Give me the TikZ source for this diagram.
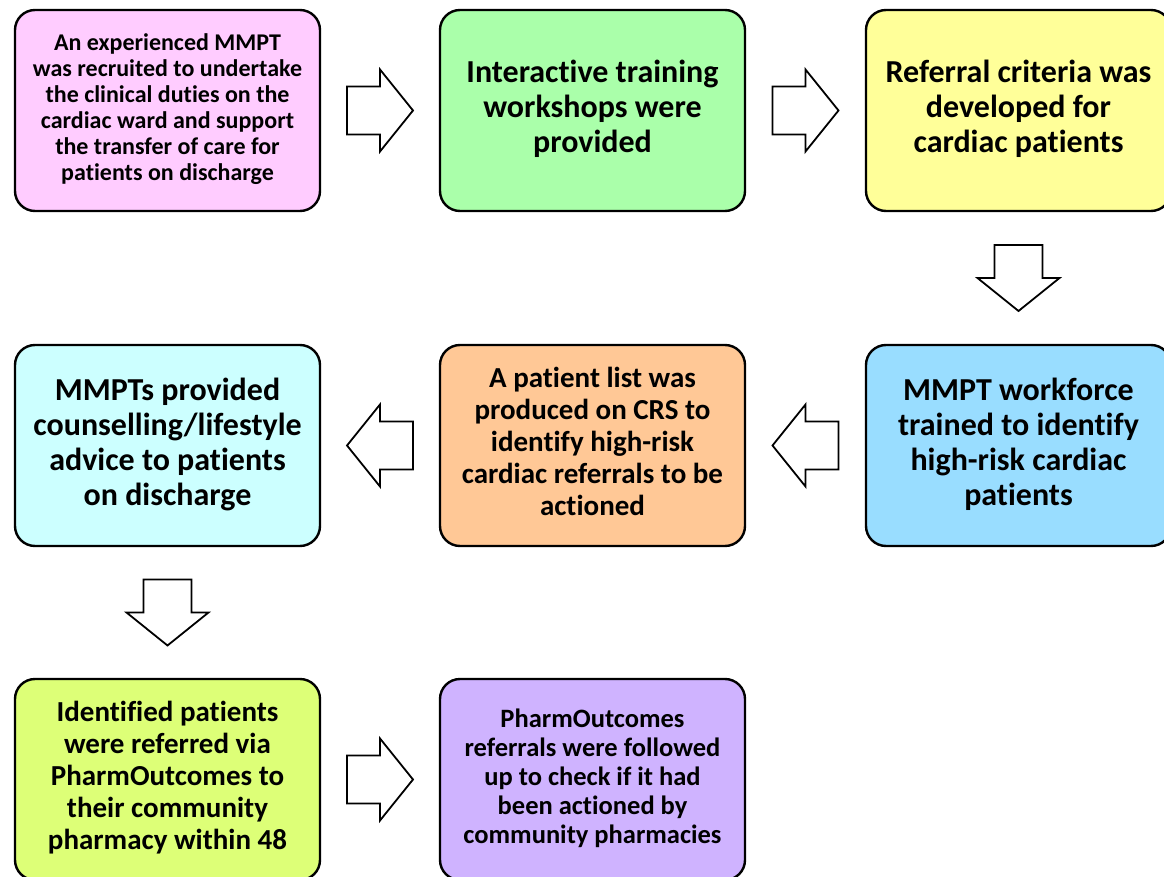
\documentclass[tikz,border=0pt]{standalone}
\usepackage{fontspec}
\setmainfont[Ligatures=NoCommon]{Carlito}
\usetikzlibrary{calc}
% centred block of lines, lifted slightly inside its box
\newcommand\steptext[1]{\raisebox{4.5pt}{\begin{tabular}{@{}c@{}}#1\end{tabular}}}
\begin{document}
\begin{tikzpicture}[x=1pt,y=-1pt,
  stepbox/.style={draw=black, line width=2.4pt, rounded corners=20pt,
    minimum width=305pt, minimum height=201pt, inner sep=0pt,
    align=center, font=\bfseries, text=black},
  small/.style={font=\fontsize{24}{26}\selectfont\bfseries},
  mid/.style={font=\fontsize{26.5}{29}\selectfont\bfseries},
  large/.style={font=\fontsize{29}{32}\selectfont\bfseries},
  huge/.style={font=\fontsize{32}{35}\selectfont\bfseries},
  blockarrow/.pic={
    \draw[line width=1.8pt, fill=white, line join=miter]
      (-33,-24) -- (0,-24) -- (0,-41) -- (33,0) -- (0,41) -- (0,24) -- (-33,24) -- cycle;
  }]
\definecolor{cPink}{HTML}{FFCCFF}
\definecolor{cGreen}{HTML}{AAFFAA}
\definecolor{cYellow}{HTML}{FFFF99}
\definecolor{cBlue}{HTML}{99DDFF}
\definecolor{cOrange}{HTML}{FFC896}
\definecolor{cCyan}{HTML}{CCFFFF}
\definecolor{cLime}{HTML}{DDFF77}
\definecolor{cPurple}{HTML}{CFB3FF}

\useasboundingbox (0,0) rectangle (1164,877);
\clip (0,0) rectangle (1164,877);

% row 1
\node[stepbox, fill=cPink, small] (b1) at (167.5,110.5)
  {\steptext{An experienced MMPT\\was recruited to undertake\\the clinical duties on the\\cardiac ward and support\\the transfer of care for\\patients on discharge}};
\node[stepbox, fill=cGreen, huge] (b2) at (592.5,110.5)
  {\steptext{Interactive training\\workshops were\\provided}};
\node[stepbox, fill=cYellow, huge] (b3) at (1018.5,110.5)
  {\steptext{Referral criteria was\\developed for\\cardiac patients}};

% row 2
\node[stepbox, fill=cBlue, huge] (b4) at (1018.5,445.5)
  {\steptext{MMPT workforce\\trained to identify\\high-risk cardiac\\patients}};
\node[stepbox, fill=cOrange, large] (b5) at (592.5,445.5)
  {\steptext{A patient list was\\produced on CRS to\\identify high-risk\\cardiac referrals to be\\actioned}};
\node[stepbox, fill=cCyan, huge] (b6) at (167.5,445.5)
  {\steptext{MMPTs provided\\counselling/lifestyle\\advice to patients\\on discharge}};

% row 3
\node[stepbox, fill=cLime, large] (b7) at (167.5,779.5)
  {\steptext{Identified patients\\were referred via\\PharmOutcomes to\\their community\\pharmacy within 48}};
\node[stepbox, fill=cPurple, mid] (b8) at (592.5,779.5)
  {\steptext{PharmOutcomes\\referrals were followed\\up to check if it had\\been actioned by\\community pharmacies}};

% block arrows between the steps
\path ($(b1.east)!0.5!(b2.west)$) pic {blockarrow};
\path ($(b2.east)!0.5!(b3.west)$) pic {blockarrow};
\path ($(b3.south)!0.5!(b4.north)$) pic[rotate=-90] {blockarrow};
\path ($(b4.west)!0.5!(b5.east)$) pic[rotate=180] {blockarrow};
\path ($(b5.west)!0.5!(b6.east)$) pic[rotate=180] {blockarrow};
\path ($(b6.south)!0.5!(b7.north)$) pic[rotate=-90] {blockarrow};
\path ($(b7.east)!0.5!(b8.west)$) pic {blockarrow};
\end{tikzpicture}
\end{document}
